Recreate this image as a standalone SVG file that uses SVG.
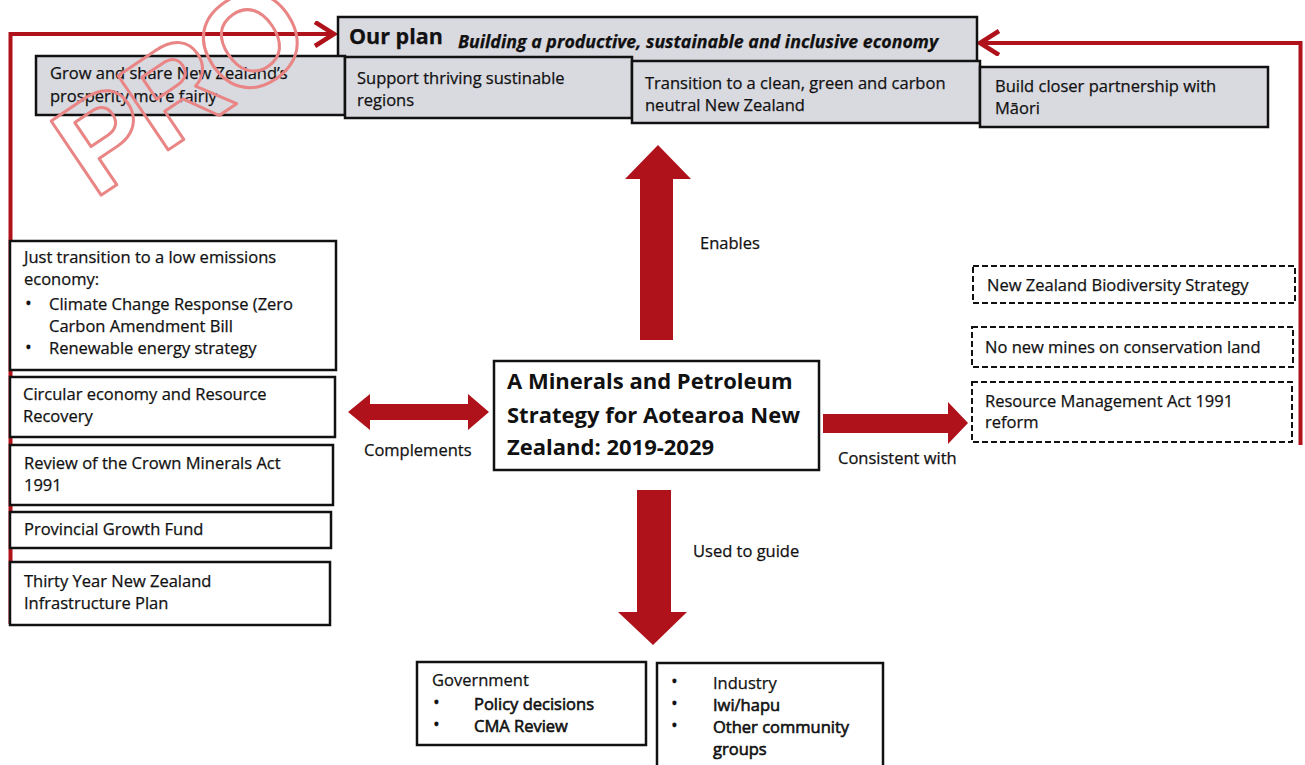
<svg xmlns="http://www.w3.org/2000/svg" width="1305" height="765" viewBox="0 0 1305 765">
<style>
text{font-family:"Open Sans","Liberation Sans",sans-serif;fill:#111;stroke:#111;stroke-width:0.25}
.box{fill:#fff;stroke:#111;stroke-width:2.5}
.gbox{fill:#d9d9e0;stroke:#111;stroke-width:2.5}
.dbox{fill:#fff;stroke:#111;stroke-width:2;stroke-dasharray:6 3}
.t{font-size:16.5px}
.ts{font-size:16.5px}
.lbl{font-size:16.5px}
.big{font-size:22px;font-weight:bold;stroke-width:0}
.b{stroke-width:0.6}
.bul{font-size:18px}
.arrow{fill:#b0121b}
.loop{fill:none;stroke:#b0121b;stroke-width:4}
.wm{font-family:"Liberation Sans",sans-serif;font-size:130px;font-weight:bold;fill:none;stroke:#e98585;stroke-width:3;stroke-linejoin:round;letter-spacing:-6px}
</style>
<defs>
<marker id="chev" markerUnits="userSpaceOnUse" markerWidth="30" markerHeight="30" refX="22" refY="13" orient="auto">
<polyline points="3,1 22,13 3,25" fill="none" stroke="#b0121b" stroke-width="4.5"/>
</marker>
</defs>
<rect width="1305" height="765" fill="#fff"/>

<g id="connectors">
<path class="loop" d="M10.5,624 V34 H334" marker-end="url(#chev)"/>
<path class="loop" d="M1300.5,445 V43 H980" marker-end="url(#chev)"/>
<polygon class="arrow" points="658,145 691,179 673,179 673,340 640,340 640,179 625,179"/>
<polygon class="arrow" points="637,490 671,490 671,612 687,612 653,645 618,612 637,612"/>
<polygon class="arrow" points="348,412 370,394 370,404 468,404 468,394 489,412 468,430 468,420 370,420 370,430"/>
<polygon class="arrow" points="823,414 948,414 948,402 968,423 948,444 948,433 823,433"/>
<text class="lbl" x="700" y="249">Enables</text>
<text class="lbl" x="364" y="456">Complements</text>
<text class="lbl" x="838" y="464">Consistent with</text>
<text class="lbl" x="693" y="557">Used to guide</text>
</g>

<g id="our-plan">
<rect class="gbox" x="338" y="17" width="639" height="46"/>
<text x="349" y="44" font-size="21.5" font-weight="bold" stroke-width="0">Our plan</text>
<text x="458" y="48" font-size="17.8" font-weight="bold" font-style="italic" stroke-width="0">Building a productive, sustainable and inclusive economy</text>
</g>
<g id="grow">
<rect class="gbox" x="36" y="56" width="309" height="59"/>
<text class="t" x="50" y="79">Grow and share New Zealand’s</text>
<text class="t" x="50" y="102">prosperity more fairly</text>
</g>
<g id="regions">
<rect class="gbox" x="345" y="57" width="287" height="61"/>
<text class="t" x="357" y="84">Support thriving sustinable</text>
<text class="t" x="357" y="106">regions</text>
</g>
<g id="transition">
<rect class="gbox" x="632" y="61" width="348" height="62"/>
<text class="t" x="645" y="89">Transition to a clean, green and carbon</text>
<text class="t" x="645" y="111">neutral New Zealand</text>
</g>
<g id="maori">
<rect class="gbox" x="980" y="67" width="288" height="60"/>
<text class="t" x="995" y="92">Build closer partnership with</text>
<text class="t" x="995" y="114">Māori</text>
</g>

<g id="just-transition">
<rect class="box" x="10" y="241" width="326" height="129"/>
<text class="ts" x="24" y="263">Just transition to a low emissions</text>
<text class="ts" x="24" y="285">economy:</text>
<text class="bul" x="25" y="310">•</text>
<text class="ts" x="49" y="310">Climate Change Response (Zero</text>
<text class="ts" x="49" y="332">Carbon Amendment Bill</text>
<text class="bul" x="25" y="354">•</text>
<text class="ts" x="49" y="354">Renewable energy strategy</text>
</g>
<g id="circular">
<rect class="box" x="10" y="377" width="325" height="60"/>
<text class="ts" x="23" y="400">Circular economy and Resource</text>
<text class="ts" x="23" y="422">Recovery</text>
</g>
<g id="cma-review">
<rect class="box" x="10" y="445" width="323" height="60"/>
<text class="ts" x="24" y="469">Review of the Crown Minerals Act</text>
<text class="ts" x="24" y="491">1991</text>
</g>
<g id="pgf">
<rect class="box" x="10" y="512" width="321" height="36"/>
<text class="ts" x="24" y="535">Provincial Growth Fund</text>
</g>
<g id="infrastructure">
<rect class="box" x="10" y="562" width="320" height="63"/>
<text class="ts" x="24" y="587">Thirty Year New Zealand</text>
<text class="ts" x="24" y="609">Infrastructure Plan</text>
</g>

<g id="strategy">
<rect class="box" x="494" y="361" width="325" height="109"/>
<text class="big" x="507" y="389">A Minerals and Petroleum</text>
<text class="big" x="507" y="423">Strategy for Aotearoa New</text>
<text class="big" x="507" y="455">Zealand: 2019-2029</text>
</g>

<g id="biodiversity">
<rect class="dbox" x="973" y="266" width="322" height="37"/>
<text class="ts" x="987" y="291">New Zealand Biodiversity Strategy</text>
</g>
<g id="no-new-mines">
<rect class="dbox" x="972" y="327" width="321" height="40"/>
<text class="ts" x="985" y="353">No new mines on conservation land</text>
</g>
<g id="rma">
<rect class="dbox" x="972" y="382" width="320" height="60"/>
<text class="ts" x="985" y="407">Resource Management Act 1991</text>
<text class="ts" x="985" y="428">reform</text>
</g>

<g id="government">
<rect class="box" x="417" y="662" width="229" height="83"/>
<text class="ts" x="432" y="686">Government</text>
<text class="bul" x="433" y="709">•</text>
<text class="ts b" x="474" y="710">Policy decisions</text>
<text class="bul" x="433" y="731">•</text>
<text class="ts b" x="474" y="732">CMA Review</text>
</g>
<g id="stakeholders">
<rect class="box" x="657" y="663" width="226" height="110"/>
<text class="bul" x="671" y="688">•</text>
<text class="ts" x="713" y="689">Industry</text>
<text class="bul" x="671" y="710">•</text>
<text class="ts b" x="713" y="711">Iwi/hapu</text>
<text class="bul" x="671" y="732">•</text>
<text class="ts b" x="713" y="733">Other community</text>
<text class="ts b" x="713" y="755">groups</text>
</g>

<g id="watermark">
<text class="wm" x="94" y="200" transform="rotate(-34 94 200)">PRO</text>
</g>
</svg>
